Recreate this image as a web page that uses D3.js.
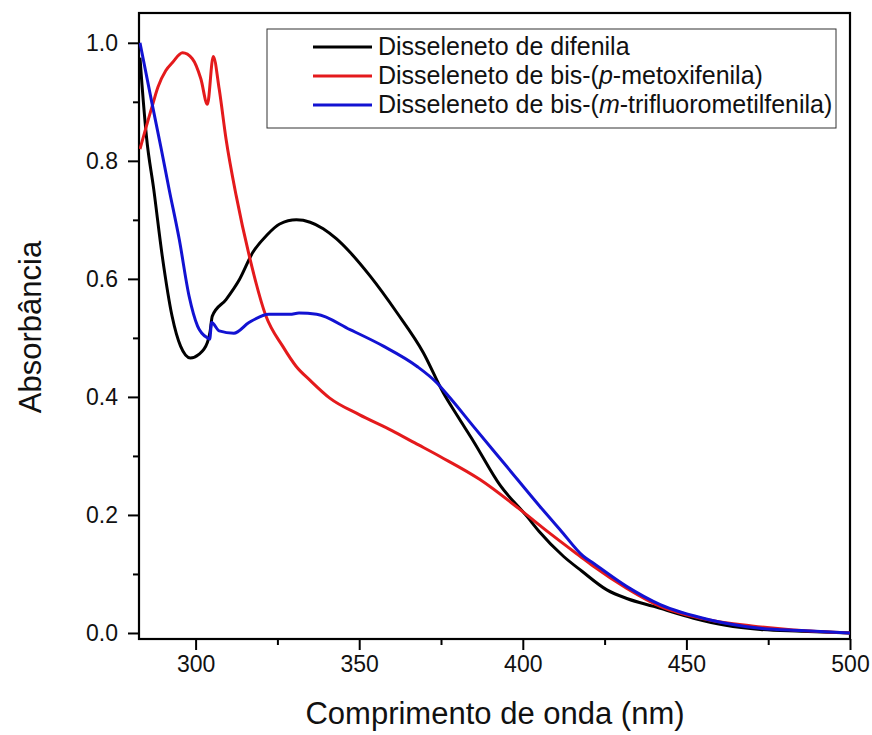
<!DOCTYPE html>
<html>
<head>
<meta charset="utf-8">
<script src="https://cdn.jsdelivr.net/npm/d3@7"></script>
<style>
  html, body { margin: 0; padding: 0; background: #fff; }
  svg { display: block; font-family: "Liberation Sans", Arial, sans-serif; }
</style>
</head>
<body>
<svg id="chart" width="872" height="735"></svg>
<script>
// ---- Data ----
const seriesNames = [
  "Disseleneto de difenila",
  "Disseleneto de bis-(p-metoxifenila)",
  "Disseleneto de bis-(m-trifluorometilfenila)"
];
const seriesColors = ["#000000", "#e41a1c", "#1212d2"];

const wlBlack = [283, 283.6, 285, 287.2, 289.8, 292.8, 295.4, 298.4, 301, 303.6, 304.4, 305.1, 309.3, 313.4, 317.5, 321.6, 325.7, 330.8, 335, 339, 343, 347.2, 353.3, 361.5, 369.6, 375.7, 380, 384.9, 393.1, 401.2, 405, 412.4, 418, 425.7, 432, 440, 452.2, 462, 472.6, 485, 500];
const absBlack = [0.975, 0.93, 0.84, 0.752, 0.639, 0.537, 0.486, 0.466, 0.472, 0.492, 0.51, 0.537, 0.565, 0.599, 0.645, 0.673, 0.693, 0.70, 0.696, 0.685, 0.668, 0.645, 0.605, 0.543, 0.475, 0.407, 0.368, 0.325, 0.25, 0.198, 0.172, 0.13, 0.105, 0.073, 0.058, 0.045, 0.025, 0.013, 0.006, 0.003, 0.0];

const wlRed = [283, 286.8, 288.5, 290.9, 293, 296, 299, 301.6, 303.6, 305.4, 307.2, 309.3, 312.4, 316.4, 321.5, 326.6, 330.7, 335, 341, 350, 360, 367, 374.7, 386.9, 399.2, 408, 417.5, 421.6, 431.7, 442, 457, 470, 482.7, 500];
const absRed = [0.82, 0.894, 0.925, 0.953, 0.967, 0.983, 0.973, 0.939, 0.896, 0.977, 0.922, 0.837, 0.741, 0.639, 0.537, 0.486, 0.452, 0.428, 0.398, 0.37, 0.343, 0.322, 0.299, 0.26, 0.209, 0.17, 0.13, 0.113, 0.076, 0.045, 0.022, 0.012, 0.005, 0.0];

const wlBlue = [283, 286.8, 289.5, 291.9, 295, 298, 300.6, 303.6, 304.3, 304.9, 307.2, 311.7, 316.3, 322.4, 328.8, 331.6, 337, 347.2, 357.4, 367.6, 373.7, 377.8, 384.9, 395.1, 405.3, 411.4, 418.5, 421.6, 431.7, 442, 457.3, 472.6, 485, 500];
const absBlue = [1.0, 0.894, 0.82, 0.752, 0.667, 0.571, 0.52, 0.50, 0.498, 0.526, 0.512, 0.508, 0.526, 0.54, 0.54, 0.542, 0.54, 0.514, 0.486, 0.452, 0.424, 0.398, 0.35, 0.282, 0.214, 0.175, 0.13, 0.118, 0.079, 0.048, 0.022, 0.008, 0.004, 0.0];

const xTicks = [300, 350, 400, 450, 500];
const xMinorTicks = [325, 375, 425, 475];
const yTicks = [0.0, 0.2, 0.4, 0.6, 0.8, 1.0];
const yMinorTicks = [0.1, 0.3, 0.5, 0.7, 0.9];

const xTitle = "Comprimento de onda (nm)";
const yTitle = "Absorbância";

// ---- Layout ----
const L = 139, R = 850, T = 13, B = 639;
const svg = d3.select("#chart");

const x = d3.scaleLinear().domain([282.7, 500]).range([L, R]);
const y = d3.scaleLinear().domain([-0.0102, 1.0505]).range([B, T]);

// Axes
const gx = svg.append("g").attr("transform", `translate(0,${B})`);
gx.call(d3.axisBottom(x).tickValues(xTicks).tickFormat(d3.format("d")).tickSize(11).tickPadding(6));
const gxm = svg.append("g").attr("transform", `translate(0,${B})`);
gxm.call(d3.axisBottom(x).tickValues(xMinorTicks).tickFormat("").tickSize(6));

const gy = svg.append("g").attr("transform", `translate(${L},0)`);
gy.call(d3.axisLeft(y).tickValues(yTicks).tickFormat(d3.format(".1f")).tickSize(11).tickPadding(10));
const gym = svg.append("g").attr("transform", `translate(${L},0)`);
gym.call(d3.axisLeft(y).tickValues(yMinorTicks).tickFormat("").tickSize(6));

[gx, gxm, gy, gym].forEach(g => {
  g.selectAll(".domain").remove();
  g.selectAll(".tick line").attr("stroke", "#000").attr("stroke-width", 2);
  g.selectAll(".tick text").attr("fill", "#111").style("font-size", "23px")
    .style("font-family", "'Liberation Sans', Arial, sans-serif");
});

// Frame
svg.append("rect").attr("x", L).attr("y", T).attr("width", R - L).attr("height", B - T)
  .attr("fill", "none").attr("stroke", "#000").attr("stroke-width", 2.2);

// Lines
const line = d3.line().x(d => x(d[0])).y(d => y(d[1])).curve(d3.curveMonotoneX);
const series = [
  d3.zip(wlBlack, absBlack),
  d3.zip(wlRed, absRed),
  d3.zip(wlBlue, absBlue)
];
svg.append("clipPath").attr("id", "clip").append("rect")
  .attr("x", L).attr("y", T).attr("width", R - L).attr("height", B - T);
series.forEach((s, i) => {
  svg.append("path").datum(s).attr("d", line)
    .attr("fill", "none").attr("stroke", seriesColors[i]).attr("stroke-width", 3)
    .attr("stroke-linejoin", "round").attr("clip-path", "url(#clip)");
});

// Legend
const lg = svg.append("g");
lg.append("rect").attr("x", 267).attr("y", 29).attr("width", 569).attr("height", 99)
  .attr("fill", "#fff").attr("stroke", "#333").attr("stroke-width", 1);
const rowY = [47, 76, 105];
const legendParts = [
  [["Disseleneto de difenila", false]],
  [["Disseleneto de bis-(", false], ["p", true], ["-metoxifenila)", false]],
  [["Disseleneto de bis-(", false], ["m", true], ["-trifluorometilfenila)", false]]
];
legendParts.forEach((parts, i) => {
  lg.append("line").attr("x1", 313).attr("x2", 372).attr("y1", rowY[i]).attr("y2", rowY[i])
    .attr("stroke", seriesColors[i]).attr("stroke-width", 3);
  const t = lg.append("text").attr("x", 378).attr("y", rowY[i] + 8)
    .style("font-size", "25px").attr("fill", "#111");
  parts.forEach(p => {
    t.append("tspan").text(p[0]).style("font-style", p[1] ? "italic" : "normal");
  });
});

// Axis titles
svg.append("text").attr("x", 495).attr("y", 724).attr("text-anchor", "middle")
  .style("font-size", "31px").attr("fill", "#111").text(xTitle);
svg.append("text").attr("transform", `translate(41,327) rotate(-90)`)
  .attr("text-anchor", "middle").style("font-size", "31px").attr("fill", "#111").text(yTitle);
</script>
</body>
</html>
